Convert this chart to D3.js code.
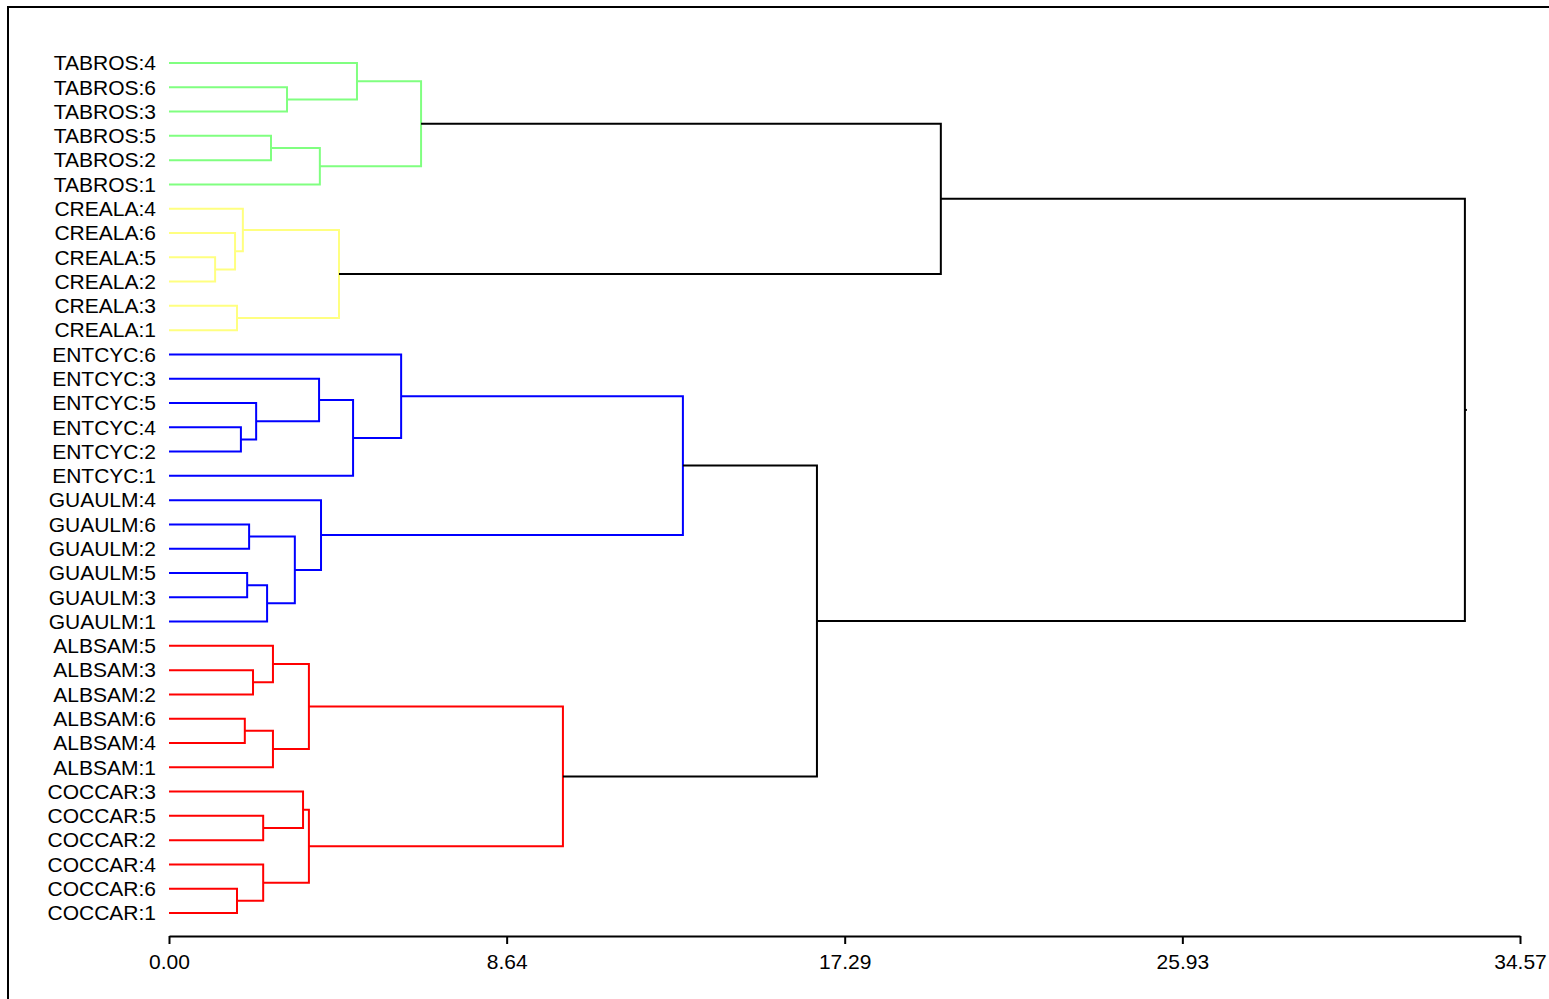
<!DOCTYPE html>
<html>
<head>
<meta charset="utf-8">
<script src="https://cdn.jsdelivr.net/npm/d3@7"></script>
<style>
  html, body { margin: 0; padding: 0; background: #fff; overflow: hidden; }
  svg { display: block; }
  text { font-family: "Liberation Sans", Arial, sans-serif; fill: #000; }
</style>
</head>
<body>
<svg id="chart" width="1549" height="999"></svg>
<script>
// ---- Data ----
const leaves = [
  "TABROS:4","TABROS:6","TABROS:3","TABROS:5","TABROS:2","TABROS:1",
  "CREALA:4","CREALA:6","CREALA:5","CREALA:2","CREALA:3","CREALA:1",
  "ENTCYC:6","ENTCYC:3","ENTCYC:5","ENTCYC:4","ENTCYC:2","ENTCYC:1",
  "GUAULM:4","GUAULM:6","GUAULM:2","GUAULM:5","GUAULM:3","GUAULM:1",
  "ALBSAM:5","ALBSAM:3","ALBSAM:2","ALBSAM:6","ALBSAM:4","ALBSAM:1",
  "COCCAR:3","COCCAR:5","COCCAR:2","COCCAR:4","COCCAR:6","COCCAR:1"
];
// merges: [childA, childB] — leaf label or "m<index>" of earlier merge
const mergeChildren = [
  ["TABROS:6","TABROS:3"], ["TABROS:4","m0"], ["TABROS:5","TABROS:2"], ["m2","TABROS:1"], ["m1","m3"],
  ["CREALA:5","CREALA:2"], ["CREALA:6","m5"], ["CREALA:4","m6"], ["CREALA:3","CREALA:1"], ["m7","m8"],
  ["m4","m9"],
  ["ENTCYC:4","ENTCYC:2"], ["ENTCYC:5","m11"], ["ENTCYC:3","m12"], ["m13","ENTCYC:1"], ["ENTCYC:6","m14"],
  ["GUAULM:6","GUAULM:2"], ["GUAULM:5","GUAULM:3"], ["m17","GUAULM:1"], ["m16","m18"], ["GUAULM:4","m19"],
  ["m15","m20"],
  ["ALBSAM:3","ALBSAM:2"], ["ALBSAM:5","m22"], ["ALBSAM:6","ALBSAM:4"], ["m24","ALBSAM:1"], ["m23","m25"],
  ["COCCAR:5","COCCAR:2"], ["COCCAR:3","m27"], ["COCCAR:6","COCCAR:1"], ["COCCAR:4","m29"], ["m28","m30"],
  ["m26","m31"], ["m21","m32"], ["m10","m33"]
];
const mergeHeights = [
  3.02, 4.81, 2.61, 3.86, 6.45,
  1.18, 1.69, 1.89, 1.74, 4.35,
  19.75,
  1.84, 2.23, 3.84, 4.71, 5.94,
  2.05, 2.00, 2.51, 3.22, 3.89,
  13.15,
  2.15, 2.66, 1.94, 2.66, 3.58,
  2.41, 3.43, 1.74, 2.41, 3.58,
  10.08, 16.58, 33.16
];
const clusters = [["TABROS"], ["CREALA"], ["ENTCYC","GUAULM"], ["ALBSAM","COCCAR"]];
const tickValues = [0, 8.64, 17.29, 25.93, 34.57];
const tickLabels = ["0.00", "8.64", "17.29", "25.93", "34.57"];
const axisMax = 34.57;

// ---- Styles ----
const clusterColors = ["#80ff80", "#ffff80", "#0000ff", "#ff0000"];
const lineWidth = 2;

// ---- Scales ----
const svg = d3.select("#chart");
const x = d3.scaleLinear().domain([0, axisMax]).range([169, 1520]);
const y = d3.scaleLinear().domain([0, leaves.length - 1]).range([63, 913]);
const colorOf = d3.scaleOrdinal().domain(d3.range(clusters.length)).range(clusterColors);

function clusterIndex(label) {
  const p = label.split(":")[0];
  return clusters.findIndex(c => c.includes(p));
}

// frame (left + top)
svg.append("path")
  .attr("d", "M8,999 L8,7 L1549,7")
  .attr("fill", "none").attr("stroke", "#000").attr("stroke-width", 2);

// node info
const nodes = {};
leaves.forEach((l, i) => { nodes[l] = { x: x(0), y: y(i), cl: new Set([clusterIndex(l)]) }; });

const g = svg.append("g").attr("fill", "none").attr("stroke-width", lineWidth);

mergeChildren.forEach((pair, i) => {
  const a = nodes[pair[0]], b = nodes[pair[1]];
  const px = x(mergeHeights[i]);
  const py = (a.y + b.y) / 2;
  const cl = new Set([...a.cl, ...b.cl]);
  const color = cl.size === 1 ? colorOf([...cl][0]) : "#000";
  g.append("path")
    .attr("d", `M${a.x},${a.y} H${px} V${b.y} H${b.x}`)
    .attr("stroke", color)
    .attr("stroke-linecap", "butt")
    .attr("stroke-linejoin", "miter");
  nodes["m" + i] = { x: px, y: py, cl };
});

// root stub
const root = nodes["m" + (mergeChildren.length - 1)];
svg.append("line").attr("x1", root.x).attr("x2", root.x + 2)
  .attr("y1", root.y).attr("y2", root.y)
  .attr("stroke", "#000").attr("stroke-width", 2);

// leaf labels
svg.append("g").selectAll("text").data(leaves).join("text")
  .attr("x", 156).attr("y", (d, i) => y(i)).attr("dy", "0.35em")
  .attr("text-anchor", "end").attr("font-size", 21)
  .text(d => d);

// axis
const axis = d3.axisBottom(x).tickValues(tickValues)
  .tickFormat((d, i) => tickLabels[i]).tickSize(8).tickSizeOuter(0).tickPadding(10);
const ag = svg.append("g").attr("transform", "translate(0,936)").call(axis);
ag.select(".domain").attr("stroke", "#000").attr("stroke-width", 2);
ag.selectAll(".tick line").attr("stroke", "#000").attr("stroke-width", 2);
ag.selectAll(".tick text").attr("font-size", 21)
  .attr("font-family", "'Liberation Sans', Arial, sans-serif").attr("fill", "#000");
</script>
</body>
</html>
